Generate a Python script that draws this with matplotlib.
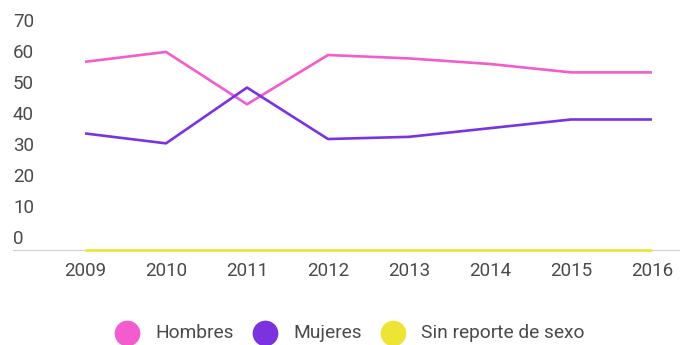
import matplotlib
matplotlib.use("Agg")
import matplotlib.pyplot as plt
from matplotlib.lines import Line2D

plt.rcParams['font.family'] = ['Roboto', 'DejaVu Sans']

years = [2009, 2010, 2011, 2012, 2013, 2014, 2015, 2016]
hombres = [60.7, 63.9, 47.0, 62.9, 61.8, 60.0, 57.3, 57.3]
mujeres = [37.6, 34.4, 52.4, 35.8, 36.5, 39.3, 42.1, 42.1]
sin_reporte = [0, 0, 0, 0, 0, 0, 0, 0]
y_ticks = [0, 10, 20, 30, 40, 50, 60, 70]
series_names = ["Hombres", "Mujeres", "Sin reporte de sexo"]
colors = ["#f25ccf", "#7a33de", "#ede435"]
text_color = "#4a4a4a"

W, H = 680, 345
fig = plt.figure(figsize=(W / 100, H / 100), dpi=100)

# plot area: baseline at y=250px, 10 units = 31px
left_px, right_px = 13, 680
base_px, top_px = 250, 20
ax = fig.add_axes([left_px / W, 1 - base_px / H,
                   (right_px - left_px) / W, (base_px - top_px) / H])
px_per_unit = 3.1
ax.set_ylim(0, (base_px - top_px) / px_per_unit)
px_per_year = (652 - 85) / 7
ax.set_xlim(2009 - (85 - left_px) / px_per_year,
            2016 + (right_px - 652) / px_per_year)

for vals, c in zip([hombres, mujeres, sin_reporte], colors):
    ax.plot(years, vals, color=c, lw=1.9, clip_on=False, solid_capstyle='butt')

for s in ['top', 'right', 'left']:
    ax.spines[s].set_visible(False)
ax.spines['bottom'].set_color("#d0d0d0")
ax.spines['bottom'].set_linewidth(0.8)
ax.spines['bottom'].set_zorder(0)

ax.set_yticks([])
ax.set_xticks(years)
ax.set_xticklabels([str(y) for y in years], fontsize=13.5, color=text_color)
ax.tick_params(axis='x', length=0, pad=9)

# value labels sit just above their grid positions
for v in y_ticks:
    ax.annotate(str(v), xy=(0, v), xycoords=('axes fraction', 'data'),
                xytext=(0, 8.0), textcoords='offset points',
                ha='left', va='center', fontsize=13.5, color=text_color)

# legend row
legend_y = 1 - 333 / H
marker_x = [127, 265, 393]
for name, c, mx in zip(series_names, colors, marker_x):
    fig.add_artist(Line2D([mx / W], [legend_y], marker='o', markersize=18.5,
                          color=c, markeredgewidth=0, linestyle='none',
                          transform=fig.transFigure))
    fig.text((mx + 28) / W, legend_y, name, ha='left', va='center',
             fontsize=13.8, color=text_color)

fig.savefig("out.png", dpi=100, facecolor="white")
